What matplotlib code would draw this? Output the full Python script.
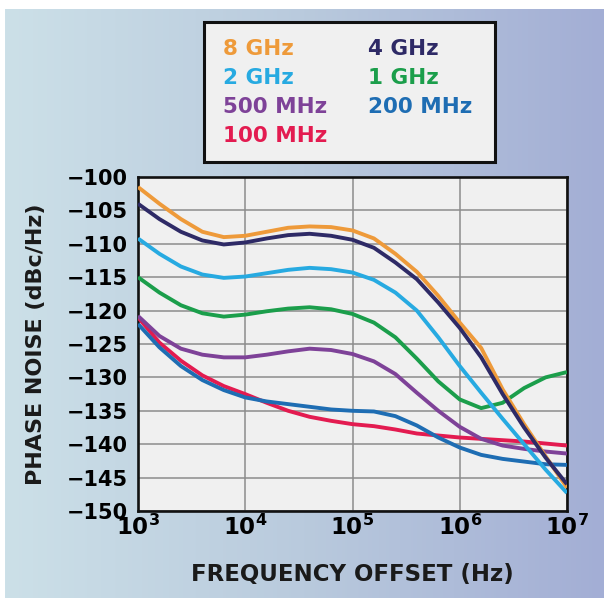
import numpy as np
import matplotlib
matplotlib.use("Agg")
import matplotlib.pyplot as plt
from matplotlib.colors import LinearSegmentedColormap
from matplotlib.patches import Rectangle

plt.rcParams["font.family"] = ["DejaVu Sans"]
plt.rcParams["font.weight"] = "bold"
plt.rcParams["mathtext.fontset"] = "dejavusans"

# frequency offset, log10(Hz)
log_f = [3.0, 3.2, 3.4, 3.6, 3.8, 4.0, 4.2, 4.4, 4.6, 4.8, 5.0,
         5.2, 5.4, 5.6, 5.8, 6.0, 6.2, 6.4, 6.6, 6.8, 7.0]

pn_8ghz = [-101.5, -104.0, -106.3, -108.2, -109.0, -108.8, -108.2, -107.6, -107.4, -107.5, -108.0,
           -109.2, -111.5, -114.2, -117.8, -121.8, -125.6, -131.8, -137.0, -141.8, -146.5]
pn_4ghz = [-104.0, -106.3, -108.2, -109.5, -110.1, -109.8, -109.2, -108.7, -108.5, -108.8, -109.4,
           -110.6, -112.8, -115.3, -118.8, -122.6, -127.0, -132.5, -137.5, -142.0, -146.0]
pn_2ghz = [-109.2, -111.5, -113.4, -114.6, -115.1, -114.9, -114.4, -113.9, -113.6, -113.8, -114.3,
           -115.4, -117.3, -120.0, -124.0, -128.3, -132.3, -136.2, -140.0, -143.8, -147.3]
pn_1ghz = [-115.0, -117.3, -119.2, -120.4, -120.9, -120.6, -120.1, -119.7, -119.5, -119.8, -120.5,
           -121.8, -124.0, -127.2, -130.6, -133.3, -134.6, -133.8, -131.6, -130.0, -129.2]
pn_500mhz = [-120.8, -123.8, -125.7, -126.6, -127.0, -127.0, -126.6, -126.1, -125.7, -125.9, -126.5,
             -127.6, -129.5, -132.3, -135.0, -137.4, -139.2, -140.2, -140.7, -141.1, -141.4]
pn_200mhz = [-122.0, -125.5, -128.3, -130.4, -131.9, -133.0, -133.6, -134.0, -134.4, -134.8, -135.0,
             -135.1, -135.8, -137.2, -139.0, -140.5, -141.6, -142.2, -142.6, -143.0, -143.1]
pn_100mhz = [-121.0, -124.8, -127.5, -129.7, -131.3, -132.5, -133.8, -135.0, -135.9, -136.5, -137.0,
             -137.3, -137.8, -138.4, -138.7, -139.0, -139.2, -139.4, -139.6, -139.9, -140.2]

labels = ["8 GHz", "4 GHz", "2 GHz", "1 GHz", "500 MHz", "200 MHz", "100 MHz"]
series = [pn_8ghz, pn_4ghz, pn_2ghz, pn_1ghz, pn_500mhz, pn_200mhz, pn_100mhz]
colors = ["#EE9A3A", "#2E2A66", "#27AAE1", "#1B9E4B", "#7E4298", "#1E6DB3", "#E31B50"]

y_ticks = [-100, -105, -110, -115, -120, -125, -130, -135, -140, -145, -150]
x_decades = [3, 4, 5, 6, 7]

freq = 10.0 ** np.array(log_f)

fig = plt.figure(figsize=(6.04, 5.98), dpi=100)
fig.patch.set_facecolor("white")

# gradient background
bg = fig.add_axes([5 / 604, 0, 599 / 604, 589 / 598], zorder=-10)
cmap = LinearSegmentedColormap.from_list("bg", ["#CCE0E8", "#B9CADD", "#A3AED5"])
bg.imshow(np.linspace(0, 1, 256)[None, :], aspect="auto", cmap=cmap,
          extent=[0, 1, 0, 1])
bg.set_axis_off()

ax = fig.add_axes([138 / 604, 1 - 511 / 598, 429 / 604, 334 / 598])
ax.set_facecolor("#F0F0F0")

order = [6, 5, 4, 3, 2, 0, 1]
for i in order:
    ax.plot(freq, series[i], color=colors[i], lw=2.8, zorder=3,
            solid_capstyle="butt")

ax.set_xscale("log")
ax.set_xlim(1e3, 1e7)
ax.set_ylim(-150, -100)
ax.set_yticks(y_ticks)
ax.set_yticklabels([f"\u2212{abs(v)}" for v in y_ticks])
ax.set_xticks([10.0 ** d for d in x_decades])
ax.set_xticklabels([r"$\mathbf{10}^{\mathbf{%d}}$" % d for d in x_decades])
ax.minorticks_off()
ax.tick_params(axis="y", length=0, pad=7, labelsize=15)
ax.tick_params(axis="x", length=0, pad=3, labelsize=16.5)
ax.grid(True, color="#8C8C8C", lw=1.1, zorder=1)
ax.set_axisbelow(True)
for s in ax.spines.values():
    s.set_linewidth(1.9)
    s.set_color("#111111")

ax.set_ylabel("PHASE NOISE (dBc/Hz)", fontsize=16, fontweight="bold", color="#1a1a1a")
ax.yaxis.set_label_coords(-0.215, 0.5)
ax.set_xlabel("FREQUENCY OFFSET (Hz)", fontsize=16.5, fontweight="bold", color="#1a1a1a")
ax.xaxis.set_label_coords(0.5, -0.155)

# legend box with coloured labels
box = Rectangle((204 / 604, 1 - 162 / 598), 291 / 604, 140 / 598,
                transform=fig.transFigure, facecolor="#F0F0F0",
                edgecolor="#111111", lw=2.2, zorder=5)
fig.patches.append(box)
legend_pos = {
    "8 GHz": (223, 49), "2 GHz": (223, 78), "500 MHz": (223, 107), "100 MHz": (223, 136),
    "4 GHz": (368, 49), "1 GHz": (368, 78), "200 MHz": (368, 107),
}
for lab, col in zip(labels, colors):
    px, py = legend_pos[lab]
    fig.text(px / 604, 1 - py / 598, lab, color=col, fontsize=15.5,
             fontweight="bold", ha="left", va="center", zorder=6)

fig.savefig("out.png", dpi=100)
